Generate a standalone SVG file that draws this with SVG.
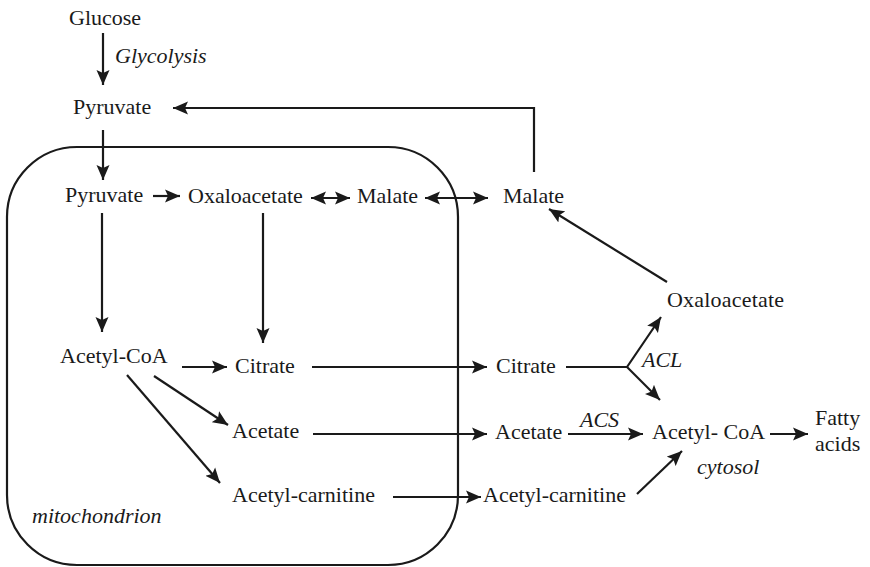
<svg xmlns="http://www.w3.org/2000/svg" width="870" height="567" viewBox="0 0 870 567" font-family="'Liberation Serif', 'Times New Roman', serif">
<defs>
<style>
text{font-family:'Liberation Serif','Times New Roman',serif;font-size:22px;fill:#1a1a1a}
.it{font-style:italic}
.c{stroke:#1a1a1a;stroke-width:2.2;fill:none}
.a{marker-end:url(#ah)}
.d{marker-end:url(#ah);marker-start:url(#ah)}
</style>
<marker id="ah" markerUnits="userSpaceOnUse" markerWidth="16" markerHeight="14" refX="15" refY="7" orient="auto-start-reverse">
<path d="M0,0.5 L15,7 L0,13.5 L3,7 z" fill="#1a1a1a"/>
</marker>
</defs>
<rect id="mitochondrion-box" x="7" y="147" width="451" height="418" rx="70" ry="70" fill="none" stroke="#1a1a1a" stroke-width="2.2"/>
<g id="connectors">
<line class="c a" x1="103" y1="33" x2="103" y2="85"/>
<polyline class="c a" points="534,172 534,108 173,108"/>
<line class="c a" x1="103" y1="130" x2="103" y2="180"/>
<line class="c a" x1="153" y1="196" x2="180" y2="196"/>
<line class="c d" x1="311" y1="198" x2="350" y2="198"/>
<line class="c d" x1="425" y1="198" x2="488" y2="198"/>
<line class="c a" x1="102" y1="213" x2="102" y2="332"/>
<line class="c a" x1="263" y1="213" x2="263" y2="343"/>
<line class="c a" x1="182" y1="367" x2="227" y2="367"/>
<line class="c a" x1="154" y1="376" x2="228" y2="425"/>
<line class="c a" x1="127" y1="375" x2="220" y2="483"/>
<line class="c a" x1="312" y1="367" x2="487" y2="367"/>
<line class="c a" x1="313" y1="434" x2="487" y2="434"/>
<line class="c a" x1="393" y1="497" x2="481" y2="497"/>
<polyline class="c a" points="566,367 627,367 661,317"/>
<line class="c a" x1="627" y1="367" x2="660" y2="400"/>
<line class="c a" x1="568" y1="434" x2="643" y2="434"/>
<line class="c a" x1="770" y1="434" x2="808" y2="434"/>
<line class="c a" x1="637" y1="494" x2="682" y2="451"/>
<line class="c a" x1="667" y1="282" x2="549" y2="209"/>
</g>
<g id="glucose"><text x="69" y="25" font-family="Liberation Serif">Glucose</text></g>
<g id="glycolysis"><text class="it" x="115" y="63" font-family="Liberation Serif">Glycolysis</text></g>
<g id="pyruvate-cyto"><text x="73" y="114" font-family="Liberation Serif">Pyruvate</text></g>
<g id="pyruvate-mito"><text x="65" y="202" font-family="Liberation Serif">Pyruvate</text></g>
<g id="oxaloacetate-mito"><text x="188" y="203" font-family="Liberation Serif">Oxaloacetate</text></g>
<g id="malate-mito"><text x="357" y="203" font-family="Liberation Serif">Malate</text></g>
<g id="malate-cyto"><text x="503" y="203" font-family="Liberation Serif">Malate</text></g>
<g id="oxaloacetate-cyto"><text x="667" y="307" letter-spacing="0.2" font-family="Liberation Serif">Oxaloacetate</text></g>
<g id="acetylcoa-mito"><text x="60" y="363" font-family="Liberation Serif">Acetyl-CoA</text></g>
<g id="citrate-mito"><text x="235" y="373" font-family="Liberation Serif">Citrate</text></g>
<g id="citrate-cyto"><text x="496" y="373" font-family="Liberation Serif">Citrate</text></g>
<g id="acl"><text class="it" x="642" y="367" font-family="Liberation Serif">ACL</text></g>
<g id="acetate-mito"><text x="232" y="438" font-family="Liberation Serif">Acetate</text></g>
<g id="acetate-cyto"><text x="495" y="439" font-family="Liberation Serif">Acetate</text></g>
<g id="acs"><text class="it" x="580" y="427" font-family="Liberation Serif">ACS</text></g>
<g id="acetylcoa-cyto"><text x="652" y="439" font-family="Liberation Serif">Acetyl- CoA</text></g>
<g id="fatty-acids"><text x="815" y="425" font-family="Liberation Serif">Fatty</text><text x="815" y="451" font-family="Liberation Serif">acids</text></g>
<g id="acetylcarnitine-mito"><text x="232" y="502" font-family="Liberation Serif">Acetyl-carnitine</text></g>
<g id="acetylcarnitine-cyto"><text x="483" y="502" font-family="Liberation Serif">Acetyl-carnitine</text></g>
<g id="mitochondrion"><text class="it" x="32" y="523" font-family="Liberation Serif">mitochondrion</text></g>
<g id="cytosol"><text class="it" x="697" y="474" font-family="Liberation Serif">cytosol</text></g>
</svg>
